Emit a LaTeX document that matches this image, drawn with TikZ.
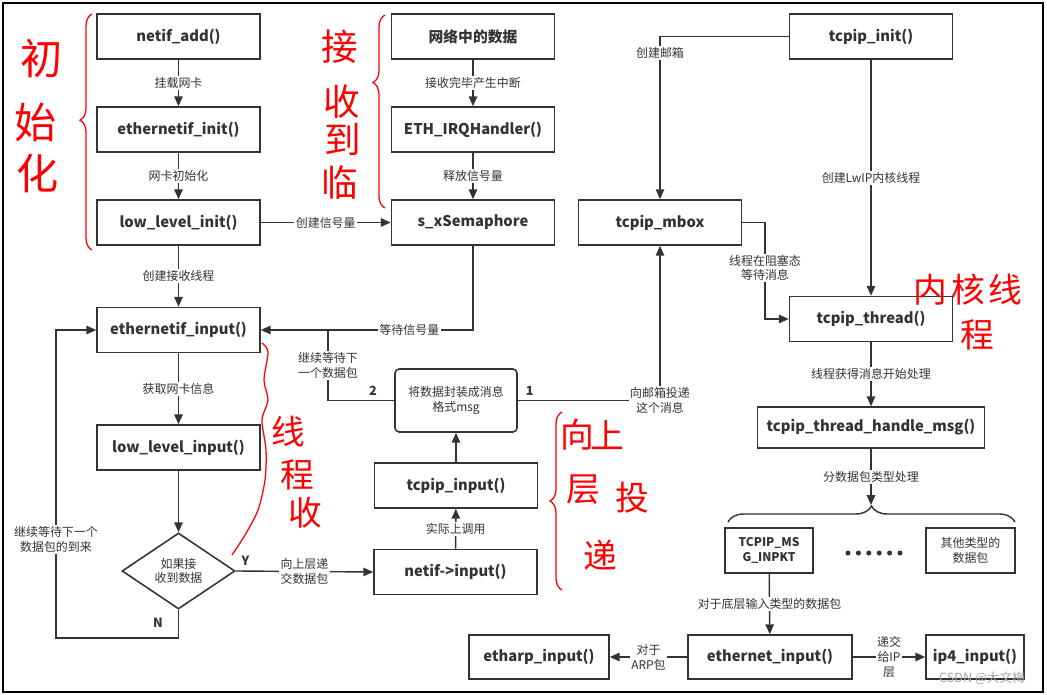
\documentclass[tikz,border=0pt]{standalone}
\usepackage{fontspec}
\setmainfont{Noto Sans CJK SC}
\usetikzlibrary{arrows.meta,shapes.geometric,decorations.pathreplacing}

\begin{document}
\begin{tikzpicture}[x=0.025cm,y=-0.025cm,
		box/.style={draw=black!80,line width=1.1pt,minimum width=4.075cm,minimum height=1.125cm,
			font=\fontsize{10.5}{12}\selectfont\bfseries,text=black!80,inner sep=1pt,align=center},
		small/.style={font=\fontsize{8.5}{10.5}\selectfont,text=black!80,align=center},
		lbl/.style={small,fill=white,inner sep=1pt},
		arr/.style={draw=black!80,line width=1pt,-{Triangle[length=7pt,width=6pt]}},
		line/.style={draw=black!80,line width=1pt},
		note/.style={text=red,inner sep=0pt},
		redbrace/.style={draw=red,line width=0.9pt,decorate,decoration={brace,amplitude=0.3cm}}]
	\useasboundingbox (0,0) rectangle (1047,695);
	\draw[line width=2.1pt] (3,3) rectangle (1043,692);
	% left column: init
	\node[box] (add) at (178.5,36.5) {netif\_add()};
	\node[box] (einit) at (178.5,129.5) {ethernetif\_init()};
	\node[box] (llinit) at (178.5,222.5) {low\_level\_init()};
	\node[box] (ethin) at (178.5,330) {ethernetif\_input()};
	\node[box] (lowin) at (178.5,447.5) {low\_level\_input()};
	\node[draw=black!80,line width=1.1pt,shape=diamond,aspect=1.49,inner sep=0pt,
		minimum width=2.825cm,minimum height=1.9cm,small] (dia) at (178.5,571) {如果接\\收到数据};
	% middle column
	\node[box] (netdata) at (473,36.5) {网络中的数据};
	\node[box] (irq) at (473,129.5) {ETH\_IRQHandler()};
	\node[box] (sem) at (473,222.5) {s\_xSemaphore};
	\node[draw=black!80,line width=1.1pt,rounded corners=3pt,minimum width=3.05cm,
		minimum height=1.575cm,small] (msg) at (456,400.5) {将数据封装成消息\\格式msg};
	\node[box] (tcpin) at (456,485.5) {tcpip\_input()};
	\node[box] (netifin) at (455.5,572) {netif->input()};
	% right column
	\node[box] (mbox) at (660,222.5) {tcpip\_mbox};
	\node[box] (tinit) at (871,36.5) {tcpip\_init()};
	\node[box] (thread) at (871,319) {tcpip\_thread()};
	\node[box,minimum width=5.675cm,minimum height=1.025cm] (handle) at (871,427.5) {tcpip\_thread\_handle\_msg()};
	\node[box,minimum width=2.2cm,font=\fontsize{8.5}{11}\selectfont\bfseries] (inpkt) at (769,550.5) {TCPIP\_MS\\G\_INPKT};
	\node[box,minimum width=2.225cm,small] (other) at (970.5,550.5) {其他类型的\\数据包};
	\foreach \i in {0,...,5}
		\fill[black!80] (848+\i*10.4,553) circle (1.8pt);
	\node[box,minimum width=4.1cm,minimum height=1.1cm] (ethernet) at (770,657) {ethernet\_input()};
	\node[box,minimum width=2.45cm,minimum height=1.1cm] (ip4) at (975,657) {ip4\_input()};
	\node[box,minimum width=3.5cm,minimum height=1.1cm] (etharp) at (539,657) {etharp\_input()};
	% connectors
	\draw[arr] (add) -- node[lbl] {挂载网卡} (einit);
	\draw[arr] (einit) -- node[lbl] {网卡初始化} (llinit);
	\draw[arr] (llinit) -- node[lbl] {创建接收线程} (ethin);
	\draw[arr] (llinit) -- node[lbl] {创建信号量} (sem);
	\draw[arr] (netdata) -- node[lbl] {接收完毕产生中断} (irq);
	\draw[arr] (irq) -- node[lbl] {释放信号量} (sem);
	\draw[arr] (sem.south) |- node[lbl,pos=0.65] {等待信号量} (ethin.east);
	\coordinate (join) at (328,330);
	\draw[line] (msg.west) -| node[pos=0.16,above,small,font=\fontsize{9}{10}\selectfont\bfseries] {2}
		node[lbl,pos=0.75] {继续等待下\\一个数据包} (join);
	\draw[arr] (msg.east) -| node[pos=0.042,above,small,font=\fontsize{9}{10}\selectfont\bfseries] {1}
		node[lbl,pos=0.5] {向邮箱投递\\这个消息} (mbox.south);
	\draw[arr] (tcpin) -- (msg);
	\draw[arr] (netifin) -- node[lbl] {实际上调用} (tcpin);
	\draw[arr] (ethin) -- node[lbl] {获取网卡信息} (lowin);
	\draw[arr] (lowin) -- (dia);
	\draw[arr] (dia.east) -- node[pos=0.07,above,small,font=\fontsize{9}{10}\selectfont\bfseries] {Y}
		node[lbl] {向上层递\\交数据包} (netifin.west);
	\coordinate (nloop) at (56,638);
	\node[small,font=\fontsize{9}{10}\selectfont\bfseries] (nlab) at (158,623) {N};
	\draw[arr] (dia.south) |- (nloop) |- node[lbl,pos=0.16] {继续等待下一个\\数据包的到来} (ethin.west);
	\draw[arr] (tinit.west) -| node[lbl,pos=0.552] {创建邮箱} (mbox.north);
	\draw[arr] (tinit) -- node[lbl] {创建LwIP内核线程} (thread);
	\coordinate (wait) at (765,222.5);
	\draw[arr] (mbox.east) -- (wait) |- node[lbl,pos=0.235] {线程在阻塞态\\等待消息} (thread.west);
	\draw[arr] (thread) -- node[lbl] {线程获得消息开始处理} (handle);
	\coordinate (tip) at (871,505);
	\draw[arr] (handle) -- node[lbl] {分数据包类型处理} (tip);
	\draw[line,decorate,decoration={brace,amplitude=0.4cm}] (728,522) -- (1015,522);
	\draw[arr] (inpkt) -- node[lbl] {对于底层输入类型的数据包} (ethernet);
	\draw[arr] (ethernet) -- node[lbl] {递交\\给IP\\层} (ip4);
	\draw[arr] (ethernet) -- node[lbl] {对于\\ARP包} (etharp);
	% red handwritten notes
	\draw[redbrace,decoration={aspect=0.55}] (92,250) -- (92,14);
	\draw[redbrace,decoration={aspect=0.65}] (385,208) -- (385,15);
	\draw[redbrace] (562,590) -- (562,412);
	\draw[draw=red,line width=0.9pt] plot[smooth] coordinates {(262,343) (268,352) (264,380) (268,400)
		(262,420) (266,450) (265,480) (258,510) (245,535) (232,555)};
	\foreach \c/\x/\y [count=\k] in {初/42/58,始/36/122,化/38/173}
		\node[note,font=\fontsize{30}{30}\selectfont] (ini\k) at (\x,\y) {\c};
	\foreach \c/\x/\y [count=\k] in {接/340/47,收/342/102,到/343/140,临/340/182}
		\node[note,font=\fontsize{26}{26}\selectfont] (rcv\k) at (\x,\y) {\c};
	\foreach \c/\x/\y [count=\k] in {线/288/432,程/297/475,收/305/513}
		\node[note,font=\fontsize{24}{24}\selectfont] (thr\k) at (\x,\y) {\c};
	\foreach \c/\x/\y [count=\k] in {向/577/435,上/607/435,层/583/490,投/632/498,递/600/555}
		\node[note,font=\fontsize{24}{24}\selectfont] (up\k) at (\x,\y) {\c};
	\foreach \c/\x/\y [count=\k] in {内/930/290,核/968/290,线/1005/290,程/977/335}
		\node[note,font=\fontsize{24}{24}\selectfont] (krn\k) at (\x,\y) {\c};
	\node[text=black!35,font=\fontsize{9}{10}\selectfont] (mark) at (982,678) {CSDN @大文梅};
\end{tikzpicture}
\end{document}
